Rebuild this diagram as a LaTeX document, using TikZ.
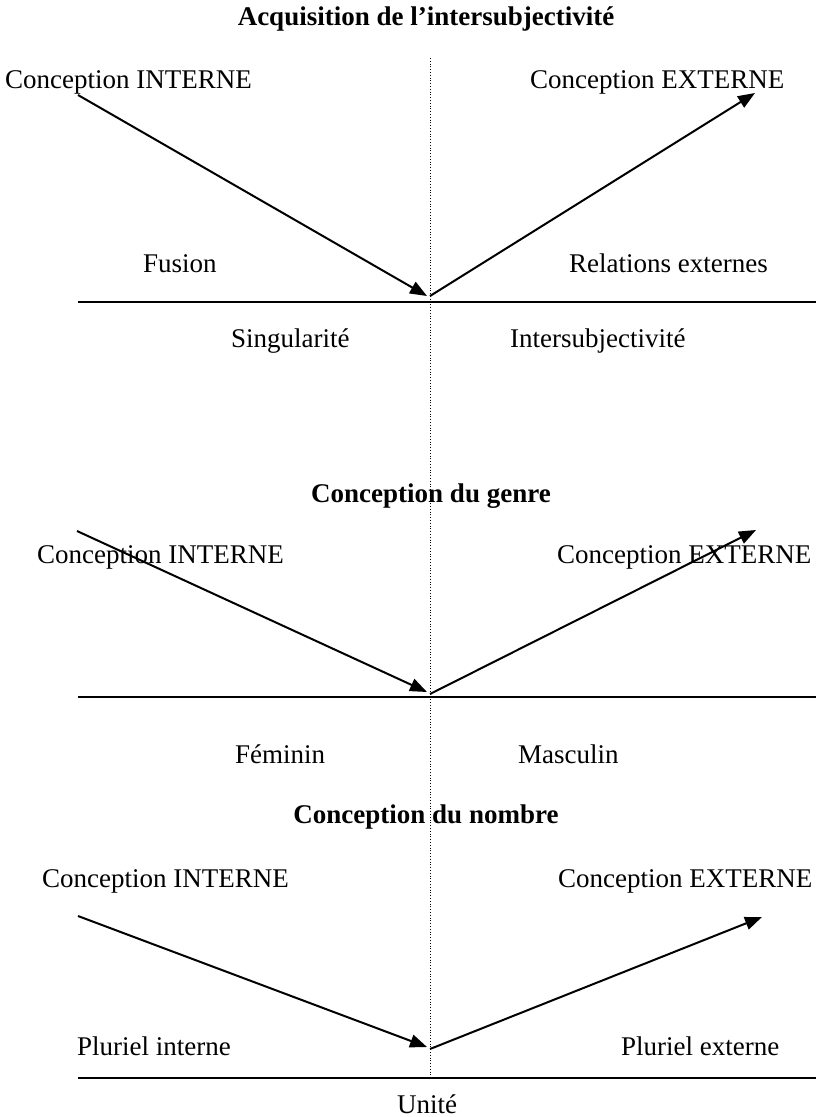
\documentclass[tikz,border=0pt]{standalone}
\usepackage{fontspec}
\setmainfont{Liberation Serif}
\usetikzlibrary{arrows.meta}
\begin{document}
\begin{tikzpicture}[x=1pt,y=-1pt,
  lbl/.style={anchor=base west,inner sep=0pt,font=\fontsize{27}{30}\selectfont},
  ttl/.style={anchor=base,inner sep=0pt,font=\fontsize{27}{30}\selectfont\bfseries},
  arr/.style={line width=2pt,-{Triangle[length=17pt,width=13pt]}},
  axis/.style={line width=2.6pt},
  sep/.style={line width=1pt,dash pattern=on 1pt off 1.8pt}]
\useasboundingbox (0,0) rectangle (816,1117);
% vertical dotted separator
\coordinate (vt) at (430,58);
\coordinate (vb) at (430,1078);
\draw[sep] (vt) -- (vb);
% ---- Section 1
\node[ttl] (t1) at (426,25) {Acquisition de l’intersubjectivité};
\node[lbl] (ci1) at (5,88) {Conception INTERNE};
\node[lbl] (ce1) at (530,88) {Conception EXTERNE};
\coordinate (a1s) at (78,95);
\coordinate (a1e) at (427,296);
\coordinate (a2s) at (430,296);
\coordinate (a2e) at (755,93);
\draw[arr] (a1s) -- (a1e);
\draw[arr] (a2s) -- (a2e);
\node[lbl] (fus) at (143,272) {Fusion};
\node[lbl] (rel) at (569,272) {Relations externes};
\coordinate (l1a) at (78,302);
\coordinate (l1b) at (816,302);
\draw[axis] (l1a) -- (l1b);
\node[lbl] (sing) at (231,347) {Singularité};
\node[lbl] (inter) at (510,347) {Intersubjectivité};
% ---- Section 2
\node[ttl] (t2) at (431,502) {Conception du genre};
\node[lbl] (ci2) at (37,563) {Conception INTERNE};
\node[lbl] (ce2) at (557,563) {Conception EXTERNE};
\coordinate (a3s) at (77,531);
\coordinate (a3e) at (427,692);
\coordinate (a4s) at (430,694);
\coordinate (a4e) at (756,530);
\draw[arr] (a3s) -- (a3e);
\draw[arr] (a4s) -- (a4e);
\coordinate (l2a) at (78,697);
\coordinate (l2b) at (816,697);
\draw[axis] (l2a) -- (l2b);
\node[lbl] (fem) at (235,763) {Féminin};
\node[lbl] (mas) at (518,763) {Masculin};
% ---- Section 3
\node[ttl] (t3) at (426,823) {Conception du nombre};
\node[lbl] (ci3) at (42,887) {Conception INTERNE};
\node[lbl] (ce3) at (558,887) {Conception EXTERNE};
\coordinate (a5s) at (78,916);
\coordinate (a5e) at (427,1047);
\coordinate (a6s) at (430,1049);
\coordinate (a6e) at (762,917);
\draw[arr] (a5s) -- (a5e);
\draw[arr] (a6s) -- (a6e);
\node[lbl] (pi) at (77,1055) {Pluriel interne};
\node[lbl] (pe) at (621,1055) {Pluriel externe};
\coordinate (l3a) at (78,1078);
\coordinate (l3b) at (816,1078);
\draw[axis] (l3a) -- (l3b);
\node[ttl,font=\fontsize{27}{30}\selectfont] (un) at (427,1113) {Unité};
\end{tikzpicture}
\end{document}
